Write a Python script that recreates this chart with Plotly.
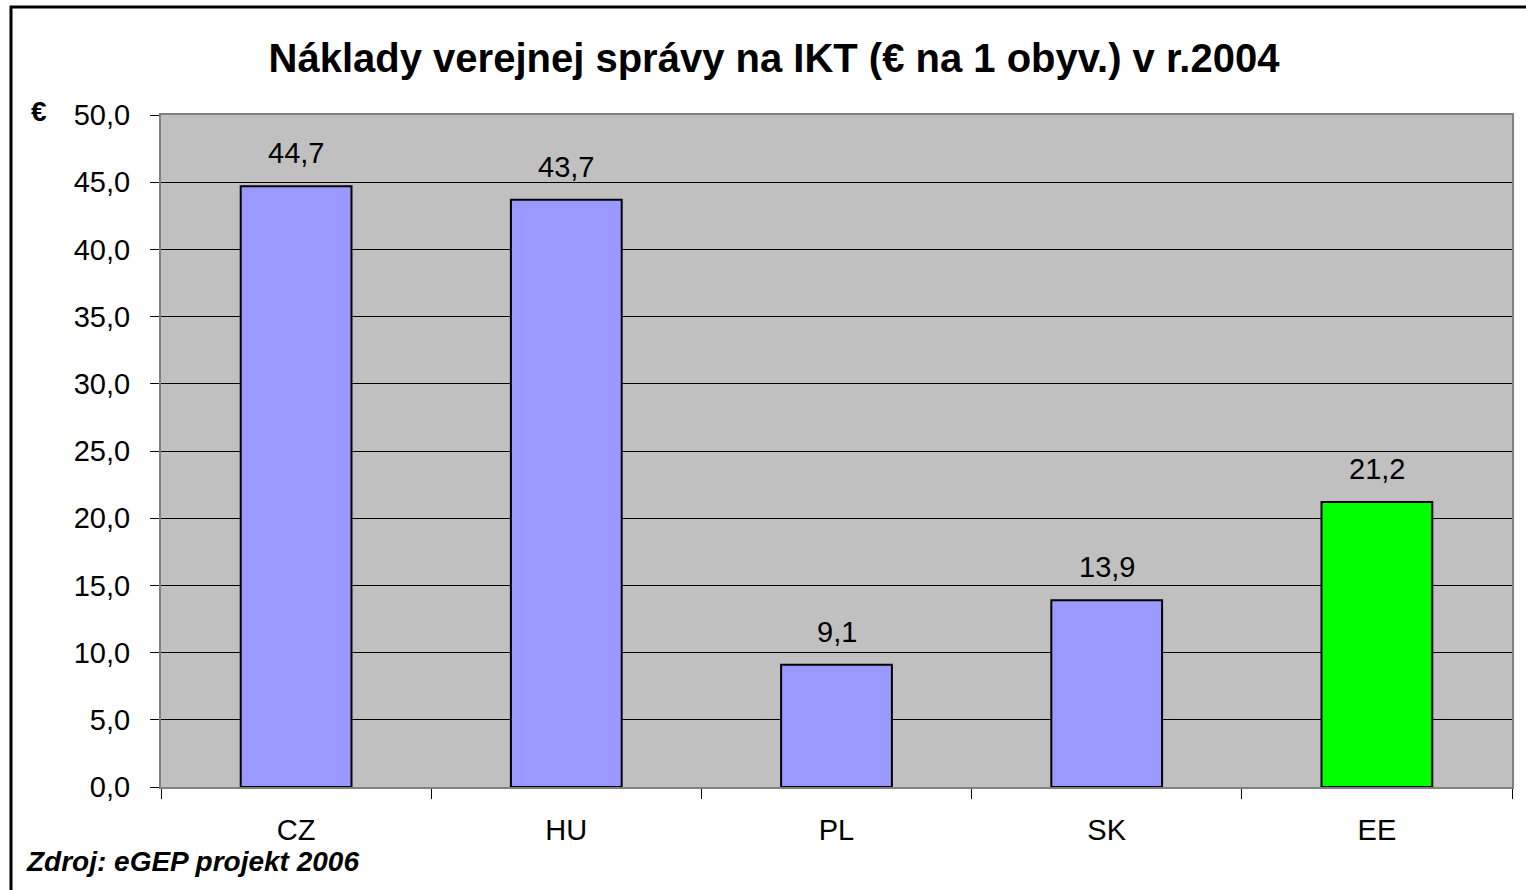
import plotly.graph_objects as go

categories = ["CZ", "HU", "PL", "SK", "EE"]
values = [44.7, 43.7, 9.1, 13.9, 21.2]
bar_colors = ["#9999FF", "#9999FF", "#9999FF", "#9999FF", "#00FF00"]
tick_vals = [0, 5, 10, 15, 20, 25, 30, 35, 40, 45, 50]

W, H = 1526, 890
L, R, T, B = 161, 14, 115, 103
pw, ph = W - L - R, H - T - B

def px_x(x):
    return (x - L) / pw

def px_y(y):
    return (H - B - y) / ph

FONT = "Liberation Sans, Arial, sans-serif"

fig = go.Figure(go.Bar(
    x=categories, y=values,
    marker=dict(color=bar_colors, line=dict(color="black", width=2)),
    hoverinfo="x+y",
))

# value labels above the bars
for c, v in zip(categories, values):
    fig.add_annotation(x=c, y=v, text=f"{v:.1f}".replace(".", ","),
                       xref="x", yref="y", showarrow=False,
                       yanchor="middle", yshift=33,
                       font=dict(family=FONT, size=29, color="black"))

fig.update_layout(
    width=W, height=H,
    margin=dict(l=L, r=R, t=T, b=B),
    paper_bgcolor="white", plot_bgcolor="#C0C0C0",
    separators=", ",
    bargap=0.59,
    showlegend=False,
    font=dict(family=FONT, color="black"),
    title=dict(text="<b>Náklady verejnej správy na IKT (€ na 1 obyv.) v r.2004</b>",
               x=px_x(774), xref="paper", xanchor="center",
               y=1 - 58 / H, yanchor="middle",
               font=dict(family=FONT, size=40, color="black")),
)

fig.update_yaxes(range=[0, 50], tickvals=tick_vals, tickformat=".1f",
                 showgrid=True, gridcolor="black", gridwidth=1,
                 zeroline=True, zerolinecolor="black", zerolinewidth=1,
                 ticks="outside", ticklen=9, tickcolor="black",
                 showline=True, linecolor="#808080", linewidth=2, mirror=True,
                 tickfont=dict(family=FONT, size=29, color="black"),
                 ticklabelstandoff=14)
fig.update_xaxes(tickson="boundaries", ticks="outside", ticklen=10, tickcolor="black",
                 showline=True, linecolor="#808080", linewidth=2, mirror=True,
                 tickfont=dict(family=FONT, size=29, color="black"),
                 ticklabelstandoff=16)

# outer frame
fig.add_shape(type="rect", xref="paper", yref="paper",
              x0=px_x(11), x1=px_x(1540), y0=px_y(7), y1=px_y(905),
              line=dict(color="black", width=3), fillcolor="rgba(0,0,0,0)", layer="below")

fig.add_annotation(text="<b>€</b>", xref="paper", yref="paper",
                   x=px_x(39), y=px_y(112), xanchor="center", yanchor="middle",
                   showarrow=False, font=dict(family=FONT, size=28, color="black"))
fig.add_annotation(text="<b><i>Zdroj: eGEP projekt 2006</i></b>", xref="paper", yref="paper",
                   x=px_x(24), y=px_y(861), xanchor="left", yanchor="middle",
                   showarrow=False, font=dict(family=FONT, size=28, color="black"))

fig.write_html("out.html", config={"displayModeBar": False},
               post_script="document.body.style.margin='0px';document.body.style.overflow='hidden';")
